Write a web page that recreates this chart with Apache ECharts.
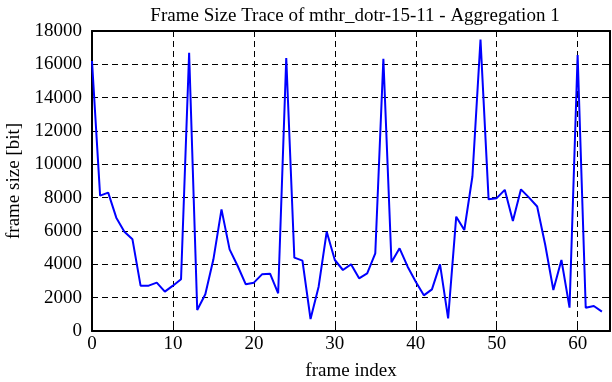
<!DOCTYPE html>
<html>
<head>
<meta charset="utf-8">
<script src="https://cdn.jsdelivr.net/npm/echarts@6/dist/echarts.min.js"></script>
<style>html,body{margin:0;padding:0;background:#fff;}#c{width:612px;height:382px;}</style>
</head>
<body>
<div id="c"></div>
<script>
const titleText = 'Frame Size Trace of mthr_dotr-15-11 - Aggregation 1';
const xName = 'frame index';
const yName = 'frame size [bit]';
const frameIndex = [];
for (let i = 0; i < 64; i++) frameIndex.push(i);
const frameSize = [
  16200, 8120, 8300, 6800, 5960, 5500, 2720, 2720, 2900, 2360,
  2720, 3100, 16700, 1260, 2200, 4300, 7300, 4900, 3900, 2800,
  2900, 3400, 3440, 2260, 16380, 4400, 4220, 720, 2660, 5960,
  4260, 3660, 4000, 3160, 3460, 4660, 16340, 4120, 4960, 3860,
  2960, 2140, 2500, 4000, 760, 6860, 6060, 9270, 17480, 7900,
  7970, 8470, 6600, 8500, 8000, 7470, 5160, 2460, 4260, 1400,
  16560, 1400, 1500, 1160
];
const xTicks = [0, 10, 20, 30, 40, 50, 60];
const yTicks = [0, 2000, 4000, 6000, 8000, 10000, 12000, 14000, 16000, 18000];

const font = 'Liberation Serif';
const chart = echarts.init(document.getElementById('c'), null, {renderer: 'canvas'});
const data = frameIndex.map((x, i) => [x, frameSize[i]]);
const gridLine = {show: true, lineStyle: {color: '#000', width: 1, type: [6, 4]}};
chart.setOption({
  animation: false,
  backgroundColor: '#fff',
  title: {
    text: titleText,
    left: 350, top: 2, textAlign: 'center',
    textStyle: {fontFamily: font, fontSize: 19, fontWeight: 'normal', color: '#000'}
  },
  grid: {left: 92, right: 2, top: 31, bottom: 51, containLabel: false, outerBoundsMode: 'none'},
  xAxis: [{
    type: 'value', min: 0, max: 64, interval: 10,
    name: xName, nameLocation: 'middle', nameGap: 31,
    nameTextStyle: {fontFamily: font, fontSize: 19, color: '#000'},
    axisLine: {show: true, onZero: false, lineStyle: {color: '#000', width: 2}},
    axisTick: {show: true, inside: true, length: 6, lineStyle: {color: '#000', width: 1}},
    axisLabel: {fontFamily: font, fontSize: 19, color: '#000', margin: 4,
      formatter: v => xTicks.indexOf(v) >= 0 ? String(v) : ''},
    splitLine: gridLine
  }, {
    type: 'value', min: 0, max: 64, interval: 10, position: 'top',
    axisLine: {show: true, onZero: false, lineStyle: {color: '#000', width: 2}},
    axisTick: {show: true, inside: true, length: 6, lineStyle: {color: '#000', width: 1}},
    axisLabel: {show: false}, splitLine: {show: false}
  }],
  yAxis: [{
    type: 'value', min: 0, max: 18000, interval: 2000,
    name: yName, nameLocation: 'middle', nameGap: 68,
    nameTextStyle: {fontFamily: font, fontSize: 19, color: '#000'},
    axisLine: {show: true, onZero: false, lineStyle: {color: '#000', width: 2}},
    axisTick: {show: true, inside: true, length: 6, lineStyle: {color: '#000', width: 1}},
    axisLabel: {fontFamily: font, fontSize: 19, color: '#000', margin: 10,
      formatter: v => yTicks.indexOf(v) >= 0 ? String(v) : ''},
    splitLine: gridLine
  }, {
    type: 'value', min: 0, max: 18000, interval: 2000, position: 'right',
    axisLine: {show: true, onZero: false, lineStyle: {color: '#000', width: 2}},
    axisTick: {show: true, inside: true, length: 6, lineStyle: {color: '#000', width: 1}},
    axisLabel: {show: false}, splitLine: {show: false}
  }],
  series: [{
    type: 'line', data: data, xAxisIndex: 0, yAxisIndex: 0,
    showSymbol: false, symbol: 'none',
    lineStyle: {color: '#0000ff', width: 2},
    z: 5
  }]
});
</script>
</body>
</html>
